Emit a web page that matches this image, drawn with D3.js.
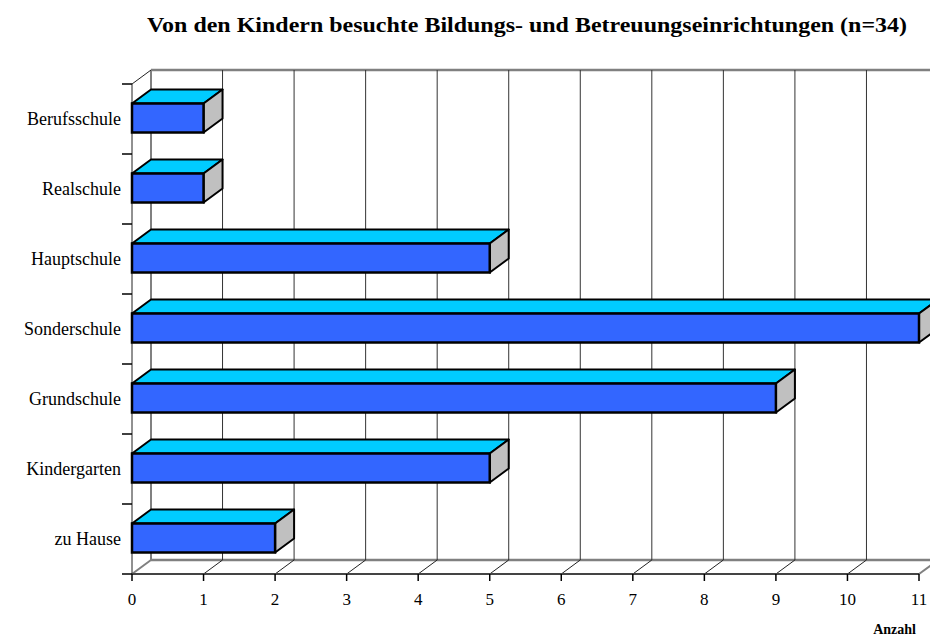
<!DOCTYPE html>
<html>
<head>
<meta charset="utf-8">
<script src="https://cdn.jsdelivr.net/npm/d3@7"></script>
<style>
  body { margin: 0; background: #fff; }
  text { font-family: "Liberation Serif", "Times New Roman", serif; }
</style>
</head>
<body>
<div id="chart-area"></div>
<script>
// data
var categories = ["Berufsschule", "Realschule", "Hauptschule", "Sonderschule", "Grundschule", "Kindergarten", "zu Hause"];
var counts = [1, 1, 5, 11, 9, 5, 2];
var xTicks = [0, 1, 2, 3, 4, 5, 6, 7, 8, 9, 10, 11];

var width = 930, height = 639;
var depthX = 19, depthY = -14;

var svg = d3.select("#chart-area").append("svg")
    .attr("width", width)
    .attr("height", height);

var xScale = d3.scaleLinear().domain([0, 11]).range([132, 919]);
var yScale = d3.scaleBand().domain(categories).range([84, 574]);

var dataset = categories.map(function(c, i) {
    return { name: c, value: counts[i] };
});

var x0 = xScale(0), yTop = yScale.range()[0], yBot = yScale.range()[1];

// back wall + floor
svg.append("line")
    .attr("x1", x0 + depthX).attr("y1", yTop + depthY)
    .attr("x2", x0 + depthX).attr("y2", yBot + depthY)
    .style("stroke", "#808080").style("stroke-width", 2);
svg.append("line")
    .attr("x1", x0 + depthX).attr("y1", yTop + depthY)
    .attr("x2", width + 20).attr("y2", yTop + depthY)
    .style("stroke", "#808080").style("stroke-width", 2.5);
svg.append("line")
    .attr("x1", x0 + depthX).attr("y1", yBot + depthY)
    .attr("x2", width + 20).attr("y2", yBot + depthY)
    .style("stroke", "#808080").style("stroke-width", 2.5);
svg.append("line")
    .attr("x1", x0).attr("y1", yBot)
    .attr("x2", x0 + depthX).attr("y2", yBot + depthY)
    .style("stroke", "#808080").style("stroke-width", 2);

// gridlines on back wall
svg.selectAll(".grid").data(xTicks.slice(1)).enter().append("line")
    .attr("class", "grid")
    .attr("x1", function(d) { return xScale(d) + depthX; })
    .attr("x2", function(d) { return xScale(d) + depthX; })
    .attr("y1", yTop + depthY)
    .attr("y2", yBot + depthY)
    .style("stroke", "#333").style("stroke-width", 1);

// floor diagonals
svg.selectAll(".diag").data(xTicks.slice(1)).enter().append("line")
    .attr("class", "diag")
    .attr("x1", function(d) { return xScale(d); })
    .attr("y1", yBot)
    .attr("x2", function(d) { return xScale(d) + depthX; })
    .attr("y2", yBot + depthY)
    .style("stroke", function(d) { return d === 11 ? "#808080" : "#222"; })
    .style("stroke-width", function(d) { return d === 11 ? 2 : 1; });

// left wall diagonal top
svg.append("line")
    .attr("x1", x0).attr("y1", yTop)
    .attr("x2", x0 + depthX).attr("y2", yTop + depthY)
    .style("stroke", "#222").style("stroke-width", 1);

// front axes
svg.append("line")
    .attr("x1", x0).attr("y1", yTop).attr("x2", x0).attr("y2", yBot)
    .style("stroke", "#222").style("stroke-width", 1);
svg.append("line")
    .attr("x1", x0).attr("y1", yBot).attr("x2", xScale(11)).attr("y2", yBot)
    .style("stroke", "#444").style("stroke-width", 2);

// y ticks at band boundaries
var yBounds = categories.map(function(c) { return yScale(c); }).concat([yBot]);
svg.selectAll(".ytick").data(yBounds).enter().append("line")
    .attr("x1", x0 - 10).attr("x2", x0)
    .attr("y1", function(d) { return d; })
    .attr("y2", function(d) { return d; })
    .style("stroke", "#000").style("stroke-width", 1.5);

// x ticks
svg.selectAll(".xtick").data(xTicks).enter().append("line")
    .attr("x1", function(d) { return xScale(d); })
    .attr("x2", function(d) { return xScale(d); })
    .attr("y1", yBot).attr("y2", yBot + 7)
    .style("stroke", "#000").style("stroke-width", 1.5);

svg.selectAll(".xlabel").data(xTicks).enter().append("text")
    .attr("x", function(d) { return xScale(d); })
    .attr("y", 605)
    .attr("text-anchor", "middle")
    .style("font-size", "17px")
    .text(function(d) { return d; });

// category labels
svg.selectAll(".ylabel").data(categories).enter().append("text")
    .attr("x", 121)
    .attr("y", function(d) { return yScale(d) + yScale.bandwidth() / 2; })
    .attr("dy", "0.35em")
    .attr("text-anchor", "end")
    .style("font-size", "18px")
    .text(function(d) { return d; });

// 3d bars
var barH = 29;
var bars = svg.selectAll(".bar").data(dataset).enter().append("g").attr("class", "bar");

function barTop(d) { return yScale(d.name) + yScale.bandwidth() / 2 - barH / 2 - 1; }

bars.append("path")
    .attr("d", function(d) {
        var xl = x0, xr = xScale(d.value), t = barTop(d);
        return "M" + xl + "," + t + "L" + (xl + depthX) + "," + (t + depthY) +
            "L" + (xr + depthX) + "," + (t + depthY) + "L" + xr + "," + t + "Z";
    })
    .style("fill", "#00CCFF").style("stroke", "#000").style("stroke-width", 2).style("stroke-linejoin", "round");

bars.append("path")
    .attr("d", function(d) {
        var xr = xScale(d.value), t = barTop(d);
        return "M" + xr + "," + t + "L" + (xr + depthX) + "," + (t + depthY) +
            "L" + (xr + depthX) + "," + (t + depthY + barH) + "L" + xr + "," + (t + barH) + "Z";
    })
    .style("fill", "#C0C0C0").style("stroke", "#000").style("stroke-width", 2).style("stroke-linejoin", "round");

bars.append("rect")
    .attr("x", x0)
    .attr("y", barTop)
    .attr("width", function(d) { return xScale(d.value) - x0; })
    .attr("height", barH)
    .style("fill", "#3366FF").style("stroke", "#000").style("stroke-width", 2.5);

// title
svg.append("text")
    .attr("x", 527)
    .attr("y", 32)
    .attr("text-anchor", "middle")
    .attr("textLength", 760)
    .attr("lengthAdjust", "spacingAndGlyphs")
    .style("font-size", "22px")
    .style("font-weight", "bold")
    .text("Von den Kindern besuchte Bildungs- und Betreuungseinrichtungen (n=34)");

svg.append("text")
    .attr("x", 916)
    .attr("y", 634)
    .attr("text-anchor", "end")
    .style("font-size", "14px")
    .style("font-weight", "bold")
    .text("Anzahl");
</script>
</body>
</html>
